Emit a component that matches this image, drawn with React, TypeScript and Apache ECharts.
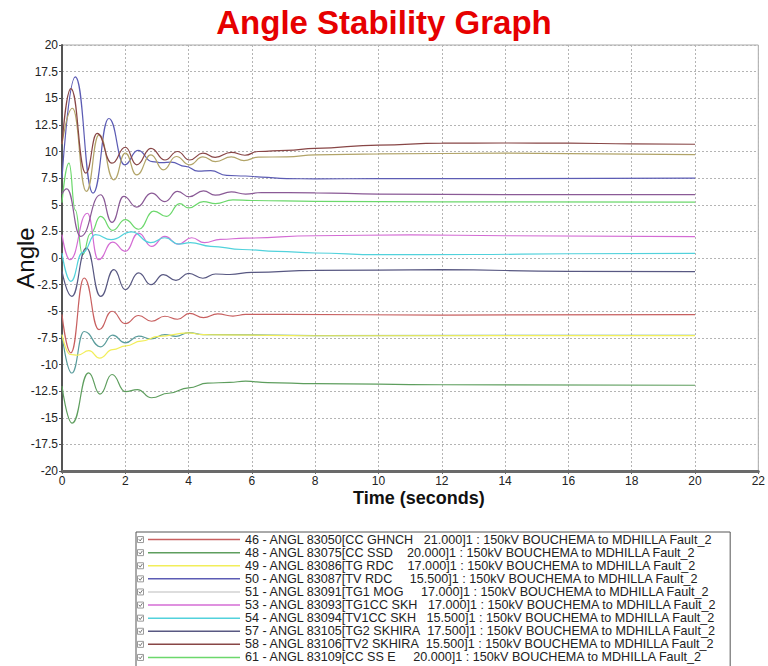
import React, { useEffect, useRef } from "react";
import * as echarts from "echarts";

// ---- Labels --------------------------------------------------------------
const TITLE = "Angle Stability Graph";
const X_TITLE = "Time (seconds)";
const Y_TITLE = "Angle";

// ---- Axis ranges -----------------------------------------------------------
const X_RANGE = [0, 22];
const X_STEP = 2;
const Y_RANGE = [-20, 20];
const Y_STEP = 2.5;

// ---- Channel names (legend) ------------------------------------------------
const NAMES = [
  "46 - ANGL 83050[CC GHNCH   21.000]1 : 150kV BOUCHEMA to MDHILLA Fault_2",
  "48 - ANGL 83075[CC SSD    20.000]1 : 150kV BOUCHEMA to MDHILLA Fault_2",
  "49 - ANGL 83086[TG RDC    17.000]1 : 150kV BOUCHEMA to MDHILLA Fault_2",
  "50 - ANGL 83087[TV RDC     15.500]1 : 150kV BOUCHEMA to MDHILLA Fault_2",
  "51 - ANGL 83091[TG1 MOG     17.000]1 : 150kV BOUCHEMA to MDHILLA Fault_2",
  "53 - ANGL 83093[TG1CC SKH   17.000]1 : 150kV BOUCHEMA to MDHILLA Fault_2",
  "54 - ANGL 83094[TV1CC SKH   15.500]1 : 150kV BOUCHEMA to MDHILLA Fault_2",
  "57 - ANGL 83105[TG2 SKHIRA  17.500]1 : 150kV BOUCHEMA to MDHILLA Fault_2",
  "58 - ANGL 83106[TV2 SKHIRA  15.500]1 : 150kV BOUCHEMA to MDHILLA Fault_2",
  "61 - ANGL 83109[CC SS E     20.000]1 : 150kV BOUCHEMA to MDHILLA Fault_2",
];

const COLORS = [
  "#c86060", // 46
  "#5e9e5e", // 48
  "#f2ee5a", // 49
  "#5c5cb4", // 50
  "#d2d2d2", // 51
  "#d46cd4", // 53
  "#52d2dc", // 54
  "#585882", // 57
  "#884646", // 58
  "#6cd86c", // 61
];

// ---- Rotor angle traces: [time (s), angle (deg)] ---------------------------
const ANGL_46: number[][] = [
  [0, -5.3], [0.28, -8.9], [0.7, -1.88], [1.17, -6.72], [1.58, -5.0], [2.0, -6.16],
  [2.42, -5.4], [2.83, -5.94], [3.25, -5.47], [3.65, -5.75], [4.03, -5.2], [4.47, -5.6],
  [4.92, -5.25], [5.4, -5.45], [5.8, -5.3], [7, -5.3], [12, -5.36], [20, -5.32],
];
const ANGL_48: number[][] = [
  [0, -12.03], [0.32, -15.5], [0.84, -10.78], [1.2, -12.78], [1.58, -10.94], [2.0, -12.55],
  [2.38, -12.35], [2.83, -13.12], [3.37, -12.7], [4.0, -12.2], [4.6, -11.75], [5.3, -11.68],
  [5.8, -11.56], [6.5, -11.7], [8, -11.8], [12, -11.9], [20, -11.95],
];
const ANGL_49: number[][] = [
  [0, -7.2], [0.27, -9.06], [0.5, -9.12], [0.85, -8.7], [1.19, -9.4], [1.6, -8.6],
  [2.02, -8.25], [2.5, -7.8], [3.06, -7.35], [3.98, -7.03], [4.47, -7.19], [5, -7.22],
  [8, -7.3], [20, -7.28],
];
const ANGL_50: number[][] = [
  [0, 7.5], [0.42, 17.0], [0.98, 6.1], [1.48, 13.1], [1.98, 8.75], [2.4, 10.1],
  [2.85, 9.05], [3.15, 8.95], [3.45, 9.0], [3.9, 8.6], [4.3, 8.15], [4.7, 8.2],
  [5.2, 7.75], [5.8, 7.7], [6.3, 7.6], [7.1, 7.45], [8, 7.43], [10, 7.45], [14, 7.45], [20, 7.5],
];
const ANGL_53: number[][] = [
  [0, 2.2], [0.25, -0.16], [0.8, 4.2], [1.15, -0.16], [1.6, 1.5], [2.0, 0.63],
  [2.42, 2.34], [2.83, 1.1], [3.25, 2.03], [3.67, 1.3], [4.1, 1.9], [4.5, 1.45],
  [5.0, 1.75], [5.8, 1.87], [8, 2.09], [11, 2.18], [14, 2.09], [20, 2.0],
];
const ANGL_54: number[][] = [
  [0, 0.45], [0.28, -2.19], [0.65, 0.5], [1.06, 2.19], [1.55, 1.72], [2.2, 2.45],
  [2.8, 1.45], [3.25, 1.9], [3.7, 1.3], [4.05, 1.45], [4.7, 1.1], [5.7, 0.8],
  [6.8, 0.62], [8, 0.47], [10, 0.31], [13, 0.33], [16, 0.4], [20, 0.43],
];
const ANGL_57: number[][] = [
  [0, -1.25], [0.31, -3.6], [0.77, 0.94], [1.22, -3.6], [1.64, -1.1], [2.0, -2.97],
  [2.42, -1.4], [2.81, -2.5], [3.2, -1.56], [3.6, -2.1], [4.0, -1.45], [4.45, -1.9],
  [4.85, -1.5], [5.3, -1.55], [6, -1.35], [8, -1.16], [12, -1.1], [16, -1.25], [20, -1.28],
];
const ANGL_58: number[][] = [
  [0, 10.7], [0.28, 15.9], [0.75, 7.97], [1.11, 11.7], [1.58, 8.9], [2.0, 10.4],
  [2.36, 8.75], [2.81, 10.3], [3.25, 9.2], [3.65, 10.0], [4.03, 9.2], [4.45, 9.84],
  [4.84, 9.45], [5.35, 9.92], [5.78, 9.65], [6.2, 10.0], [7.1, 10.1], [8, 10.3],
  [10, 10.6], [12, 10.78], [14, 10.8], [16, 10.78], [18, 10.72], [20, 10.68],
];
const ANGL_61: number[][] = [
  [0, 5.2], [0.22, 8.9], [0.42, 4.5], [0.65, 0.3], [0.9, 2.3], [1.22, 3.9],
  [1.6, 2.6], [2.0, 3.6], [2.42, 2.7], [2.9, 4.4], [3.3, 3.9], [3.72, 5.1],
  [4.0, 4.7], [4.47, 5.3], [4.85, 5.1], [5.4, 5.45], [6, 5.4], [8, 5.31], [12, 5.27], [20, 5.25],
];
// further channels plotted on the same axes
const ANGL_EXTRA_A: number[][] = [
  [0, 10.7], [0.33, 14.06], [0.77, 6.25], [1.17, 11.56], [1.64, 7.34], [2.0, 9.84],
  [2.36, 7.8], [2.81, 9.69], [3.2, 8.28], [3.61, 9.53], [4.03, 8.75], [4.45, 9.5],
  [4.85, 9.05], [5.35, 9.5], [5.75, 9.15], [6.2, 9.47], [7.1, 9.5], [8, 9.69],
  [10, 9.78], [14, 9.84], [18, 9.75], [20, 9.7],
];
const ANGL_EXTRA_B: number[][] = [
  [0, 6.0], [0.15, 6.5], [0.59, 2.03], [1.22, 5.94], [1.58, 3.34], [1.95, 5.78],
  [2.36, 4.78], [2.83, 6.09], [3.25, 5.3], [3.65, 6.25], [4.02, 5.75], [4.47, 6.3],
  [4.84, 5.9], [5.35, 6.2], [5.8, 6.0], [6.3, 6.15], [8, 6.12], [10, 6.0], [14, 5.95], [20, 5.95],
];
const ANGL_EXTRA_C: number[][] = [
  [0, -7.19], [0.31, -10.8], [0.7, -6.9], [1.22, -8.34], [1.6, -7.25], [2.0, -7.97],
  [2.42, -7.34], [2.81, -7.6], [3.25, -7.19], [3.6, -7.35], [4.0, -7.0], [4.47, -7.19],
  [5, -7.2], [8, -7.28], [20, -7.26],
];

const FONT = "Arial, 'Liberation Sans', Helvetica, sans-serif";

export default function App() {
  const ref = useRef<HTMLDivElement | null>(null);

  useEffect(() => {
    document.body.style.margin = "0";
    if (!ref.current) return;
    const chart = echarts.init(ref.current, undefined, { renderer: "svg" });

    const named = [
      { name: NAMES[9], color: COLORS[9], data: ANGL_61 },
      { name: NAMES[7], color: COLORS[7], data: ANGL_57 },
      { name: NAMES[5], color: COLORS[5], data: ANGL_53 },
      { name: NAMES[6], color: COLORS[6], data: ANGL_54 },
      { name: NAMES[0], color: COLORS[0], data: ANGL_46 },
      { name: NAMES[1], color: COLORS[1], data: ANGL_48 },
      { name: NAMES[3], color: COLORS[3], data: ANGL_50 },
    ];
    const extra = [
      { id: "extra-b", color: "#8a5a96", data: ANGL_EXTRA_B },
      { id: "extra-c", color: "#5a9c9c", data: ANGL_EXTRA_C },
      { name: NAMES[2], color: COLORS[2], data: ANGL_49 },
      { id: "extra-a", color: "#b2a468", data: ANGL_EXTRA_A },
      { name: NAMES[8], color: COLORS[8], data: ANGL_58 },
    ];
    // channel 51 has no visible swing on this scale; it stays in the legend
    const legendOnly = [{ name: NAMES[4], color: COLORS[4], data: [] as number[][] }];

    const all = [...legendOnly, ...named, ...extra];

    const series = all.map((s: any) => ({
      type: "line",
      id: s.id,
      name: s.name,
      data: s.data,
      color: s.color,
      smooth: 0.5,
      smoothMonotone: "x",
      symbol: "none",
      showSymbol: false,
      lineStyle: { width: 1.2, color: s.color },
      itemStyle: { color: s.color },
      emphasis: { disabled: true },
    }));

    const legendTop = 532;
    const padTop = 1;
    const rowPitch = 13.1;
    const checkboxes = NAMES.map((_, i) => {
      const cy = legendTop + padTop + rowPitch * (i + 0.5);
      return {
        type: "group",
        z: 20,
        children: [
          {
            type: "rect",
            z: 20,
            shape: { x: 137.5, y: cy - 3, width: 6, height: 6 },
            style: { fill: "#fff", stroke: "#9a9a9a", lineWidth: 1 },
          },
          {
            type: "polyline",
            z: 21,
            shape: { points: [[138.8, cy - 0.3], [140.2, cy + 1.4], [142.4, cy - 1.8]] },
            style: { fill: "none", stroke: "#777", lineWidth: 1 },
          },
        ],
      };
    });

    chart.setOption({
      animation: false,
      backgroundColor: "#ffffff",
      title: {
        text: TITLE,
        left: "center",
        top: 1,
        textStyle: { color: "#e60000", fontSize: 33, fontWeight: "bold", fontFamily: FONT },
      },
      grid: {
        left: 62,
        right: 3,
        top: 45,
        bottom: 195,
        show: true,
        borderColor: "#a8a8a8",
        borderWidth: 1,
        backgroundColor: "#ffffff",
      },
      xAxis: {
        type: "value",
        min: X_RANGE[0],
        max: X_RANGE[1],
        interval: X_STEP,
        axisLine: { show: true, onZero: false, lineStyle: { color: "#6a6a6a", width: 3 } },
        axisTick: { show: true, length: 3, lineStyle: { color: "#6a6a6a" } },
        axisLabel: { color: "#222", fontSize: 12, fontFamily: FONT, margin: 4 },
        splitLine: { show: true, lineStyle: { color: "#b4b4b4", type: [2, 2], width: 1 } },
      },
      yAxis: {
        type: "value",
        min: Y_RANGE[0],
        max: Y_RANGE[1],
        interval: Y_STEP,
        axisLine: { show: true, onZero: false, lineStyle: { color: "#555", width: 2 } },
        axisTick: { show: true, length: 3, lineStyle: { color: "#555" } },
        axisLabel: { color: "#222", fontSize: 12, fontFamily: FONT, margin: 4 },
        splitLine: { show: true, lineStyle: { color: "#b4b4b4", type: [2, 2], width: 1 } },
      },
      legend: {
        data: NAMES,
        orient: "vertical",
        left: 136,
        top: legendTop,
        height: 140,
        padding: [padTop, 12, 4, 12],
        itemGap: 0,
        itemWidth: 92,
        itemHeight: 1.5,
        icon: "rect",
        selectedMode: false,
        borderColor: "#555",
        borderWidth: 1,
        backgroundColor: "#ffffff",
        formatter: (n: string) => n.replace(/ {2,}/g, (m) => "\u00a0".repeat(m.length)),
        textStyle: { fontFamily: FONT, fontSize: 12.6, color: "#222", lineHeight: rowPitch },
      },
      graphic: [
        {
          type: "text",
          left: 353,
          top: 489,
          style: { text: X_TITLE, fontFamily: FONT, fontSize: 18, fontWeight: "bold", fill: "#111" },
        },
        {
          type: "text",
          x: 25,
          y: 258,
          rotation: Math.PI / 2,
          style: {
            text: Y_TITLE,
            fontFamily: FONT,
            fontSize: 24,
            fill: "#111",
            align: "center",
            verticalAlign: "middle",
          },
        },
        ...checkboxes,
      ],
      series,
    });

    return () => chart.dispose();
  }, []);

  return <div ref={ref} style={{ width: 768, height: 666 }} />;
}
